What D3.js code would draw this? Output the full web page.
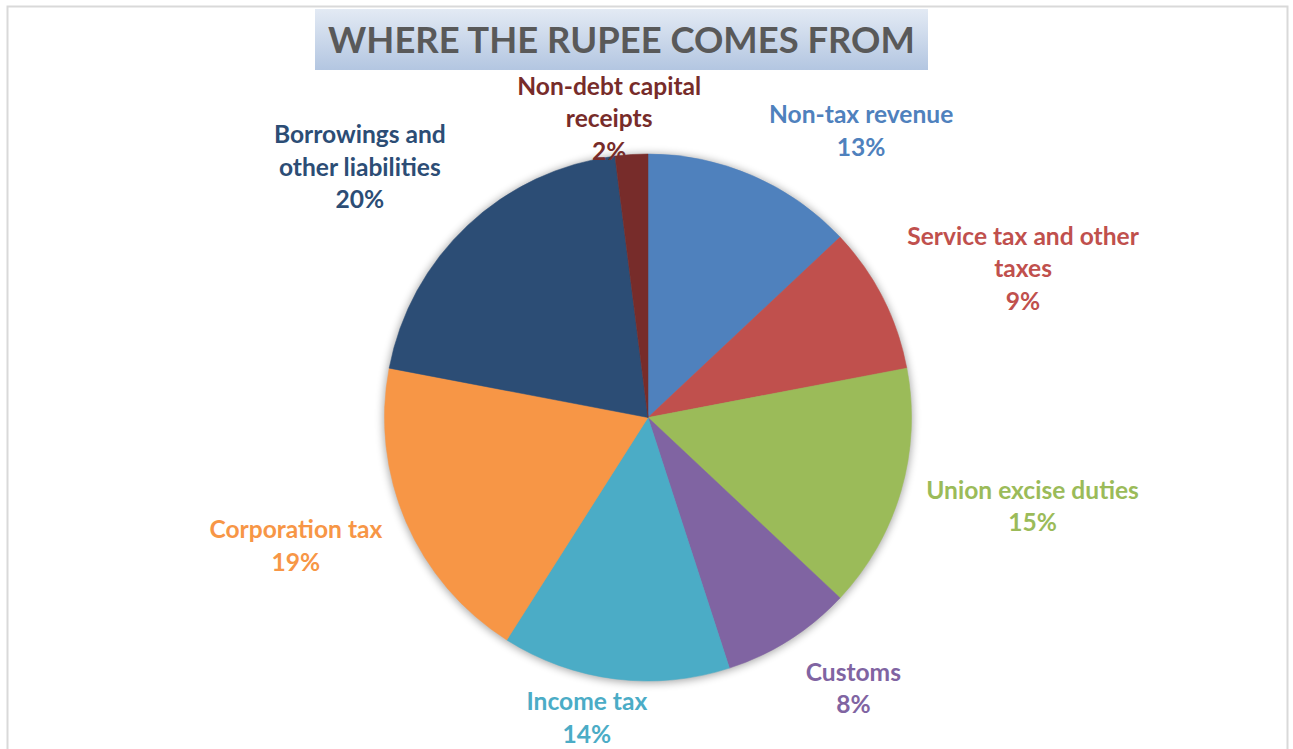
<!DOCTYPE html>
<html>
<head>
<meta charset="utf-8">
<script src="https://cdn.jsdelivr.net/npm/d3@7"></script>
<style>
  body { margin: 0; background: #fff; }
  svg { display: block; }
</style>
</head>
<body>
<svg id="chart" width="1293" height="749"></svg>
<script>
// Union budget receipts: share of each rupee by source
const categories = [
  "Non-tax revenue",
  "Service tax and other taxes",
  "Union excise duties",
  "Customs",
  "Income tax",
  "Corporation tax",
  "Borrowings and other liabilities",
  "Non-debt capital receipts"
];
const shares = [13, 9, 15, 8, 14, 19, 20, 2];
const colors = ["#4F81BD", "#C0504D", "#9BBB59", "#8064A2", "#4BACC6", "#F79646", "#2C4D75", "#772C2A"];
const labelLines = [
  ["Non-tax revenue"],
  ["Service tax and other", "taxes"],
  ["Union excise duties"],
  ["Customs"],
  ["Income tax"],
  ["Corporation tax"],
  ["Borrowings and", "other liabilities"],
  ["Non-debt capital", "receipts"]
];
const chartTitle = "WHERE THE RUPEE COMES FROM";

// Label block placement around the pie: angle (deg, clockwise from 12 o'clock) and distance in radii
const labelAngle = [36.6, 68.3, 103, 142.8, 191.5, 250, 311, 352.6];
const labelDist  = [1.357, 1.532, 1.498, 1.289, 1.163, 1.422, 1.449, 1.144];

const W = 1293, H = 749;
const cx = 648, cy = 417.5, R = 263.5;
const FONT = "Lato, 'Open Sans', sans-serif";

const svg = d3.select("#chart");
const defs = svg.append("defs");

// title band gradient
const grad = defs.append("linearGradient").attr("id", "titleGrad")
  .attr("x1", 0).attr("y1", 0).attr("x2", 0).attr("y2", 1);
grad.append("stop").attr("offset", "0%").attr("stop-color", "#e3eaf4");
grad.append("stop").attr("offset", "100%").attr("stop-color", "#b3c6e1");

// soft shadow round the pie
const blur = defs.append("filter").attr("id", "pieShadow")
  .attr("x", "-20%").attr("y", "-20%").attr("width", "140%").attr("height", "140%");
blur.append("feGaussianBlur").attr("stdDeviation", 4);

// chart area frame
svg.append("rect")
  .attr("x", 7.5).attr("y", 6.5).attr("width", 1280).attr("height", 800)
  .attr("fill", "#fff").attr("stroke", "#d9d9d9").attr("stroke-width", 2);

// measuring helper
function measure(text, size) {
  const t = svg.append("text").attr("font-family", FONT).attr("font-weight", 700)
    .attr("font-size", size).text(text);
  const w = t.node().getComputedTextLength();
  t.remove();
  return w;
}

// title
const titleBox = { x: 315, y: 9, w: 613, h: 61 };
svg.append("rect")
  .attr("x", titleBox.x).attr("y", titleBox.y)
  .attr("width", titleBox.w).attr("height", titleBox.h)
  .attr("fill", "url(#titleGrad)");
const titleSize = 50 * 587 / measure(chartTitle, 50);
svg.append("text")
  .attr("x", titleBox.x + titleBox.w / 2)
  .attr("y", 40 + titleSize * 0.36)
  .attr("text-anchor", "middle")
  .attr("font-family", FONT).attr("font-weight", 700)
  .attr("font-size", titleSize)
  .attr("fill", "#595959")
  .text(chartTitle);

// pie
const data = categories.map((c, i) => ({ name: c, value: shares[i], color: colors[i], lines: labelLines[i], i }));
const pie = d3.pie().value(d => d.value).sort(null);
const arc = d3.arc().innerRadius(0).outerRadius(R);
const arcs = pie(data);

const g = svg.append("g").attr("transform", `translate(${cx},${cy})`);
g.append("circle").attr("r", R + 1).attr("cx", 0).attr("cy", 1)
  .attr("fill", "#000").attr("opacity", 0.35).attr("filter", "url(#pieShadow)");
g.selectAll("path.slice")
  .data(arcs)
  .join("path")
  .attr("class", "slice")
  .attr("d", arc)
  .attr("fill", d => d.data.color)
  .attr("stroke", d => d.data.color)
  .attr("stroke-width", 0.5);

// data labels
const labelSize = 26 * 173 / measure("Corporation tax", 26);
const lineH = 32.5;
const labels = svg.append("g")
  .attr("font-family", FONT).attr("font-weight", 700)
  .attr("font-size", labelSize).attr("text-anchor", "middle");

arcs.forEach(a => {
  const d = a.data;
  const ang = labelAngle[d.i] * Math.PI / 180;
  const dist = labelDist[d.i] * R;
  const bx = cx + dist * Math.sin(ang);
  const by = cy - dist * Math.cos(ang);
  const lines = d.lines.concat([d3.format(".0%")(d.value / d3.sum(shares))]);
  const top = by - (lines.length - 1) * lineH / 2;
  const t = labels.append("text").attr("fill", d.color);
  lines.forEach((ln, k) => {
    t.append("tspan")
      .attr("x", bx)
      .attr("y", top + k * lineH + labelSize * 0.36)
      .text(ln);
  });
});
</script>
</body>
</html>
